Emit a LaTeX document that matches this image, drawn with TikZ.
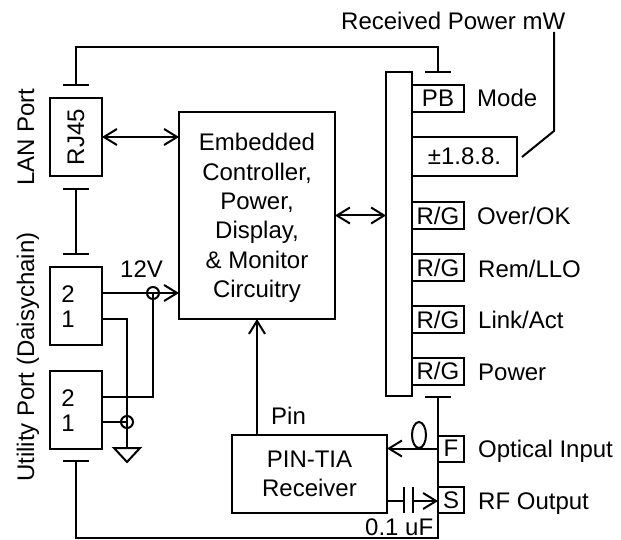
\documentclass[tikz,border=0pt]{standalone}
\usepackage{fontspec}
\setmainfont{Liberation Sans}
\usetikzlibrary{arrows.meta, calc}

\begin{document}
\begin{tikzpicture}[
    x=1pt, y=-1pt,
    >={Straight Barb[length=13pt, width=16pt, line width=2pt]},
    box/.style={draw, line width=2pt, outer sep=0pt, inner sep=0pt, align=center, text depth=0pt, font=\fontsize{24}{29.3}\selectfont},
    port/.style={box, minimum width=52pt, minimum height=78pt},
    tag/.style={box, minimum width=52pt, minimum height=27pt},
    pin/.style={box, minimum width=26pt, minimum height=26pt},
    lbl/.style={inner sep=0pt, font=\fontsize{24}{29}\selectfont},
    side/.style={lbl, anchor=base west},
    arr/.style={<->, line width=2pt},
    wire/.style={line width=2pt}
]
\useasboundingbox (0,0) rectangle (621,540);

% ports on the left
\node[port] (rj)  at (76,137) {\rotatebox{90}{RJ45}};
\node[port] (ut1) at (76,306) {};
\node[port] (ut2) at (76,410) {};
\node[lbl, anchor=base] (ut1b) at (68,302) {2};
\node[lbl, anchor=base] (ut1a) at (68,327) {1};
\node[lbl, anchor=base] (ut2b) at (68,406) {2};
\node[lbl, anchor=base] (ut2a) at (68,431) {1};
\node[lbl, rotate=90, anchor=base] (lan)   at (34,137) {LAN Port};
\node[lbl, rotate=90, anchor=base] (daisy) at (34,357) {Utility Port (Daisychain)};

% main blocks
\node[box, minimum width=156pt, minimum height=207pt] (ctrl) at (257,215.5)
    {Embedded\\Controller,\\Power,\\Display,\\\& Monitor\\Circuitry};
\node[box, minimum width=155pt, minimum height=78pt] (rx) at (309.5,474) {PIN-TIA\\Receiver};
\node[box, minimum width=26pt, minimum height=324pt] (rail) at (399,234) {};

% front panel
\node[tag] (pb)   at (438,98.5)  {PB};
\node[box, minimum width=105pt, minimum height=39pt] (disp) at (464.5,156.5) {±1.8.8.};
\node[tag] (over) at (438,215.5) {R/G};
\node[tag] (rem)  at (438,267.5) {R/G};
\node[tag] (link) at (438,319.5) {R/G};
\node[tag] (pwr)  at (438,371)   {R/G};
\node[pin] (fin)  at (451,448.5) {F};
\node[pin] (sout) at (451,500)   {S};

\node[side] (lmode) at (477,107) {Mode};
\node[side] (lover) at (477,225) {Over/OK};
\node[side] (lrem)  at (478,277) {Rem/LLO};
\node[side] (llink) at (478,328) {Link/Act};
\node[side] (lpwr)  at (478,380) {Power};
\node[side] (lfin)  at (478,457) {Optical Input};
\node[side] (lsout) at (478,509) {RF Output};
\node[side] (lrx)   at (341,30)  {Received Power mW};
\node[side] (l12)   at (120,277) {12V};
\node[side] (lpin)  at (271,424) {Pin};
\node[side] (lcap)  at (365,535) {0.1 uF};

% shield bars
\coordinate (t1) at (76,85);
\coordinate (t2) at (76,189);
\coordinate (t3) at (76,254);
\coordinate (t4) at (76,461);
\coordinate (t5) at (438,72);
\coordinate (t6) at (438,397);
\foreach \t in {t1,t2,t3,t4,t5,t6}
    \draw[wire] ($(\t)+(-13,0)$) -- ($(\t)+(13,0)$);
\draw[wire] (t1) |- (438,47) -- (t5);
\draw[wire] (t2) -- (t3);
\draw[wire] (t4) |- (438,538) -- (t6);

% data paths
\draw[arr] (rj.east) -- (rj.east -| ctrl.west);
\draw[arr] (ctrl.east) -- (ctrl.east -| rail.west);
\draw[->, wire] (rx.north -| ctrl.south) -- (ctrl.south);

% power
\coordinate (vcc) at (153,293);
\coordinate (com) at (127,422);
\coordinate (gnd) at (127,448);
\draw[->, wire] (ut1.east |- vcc) -- (ctrl.west |- vcc);
\draw[wire] (ut1.east |- 0,319) -| (gnd);
\draw[wire] (ut2.east |- 0,397) -| (vcc);
\draw[wire] (ut2.east |- com) -- (com);
\draw[wire] (vcc) circle[radius=6];
\draw[wire] (com) circle[radius=6];
\draw[wire] ($(gnd)+(-13,0)$) -- ($(gnd)+(13,0)$) -- ($(gnd)+(0,14)$) -- cycle;

% optical and rf
\draw[->, wire] (fin.west) -- (fin.west -| rx.east);
\draw[wire] (419,435) ellipse[x radius=7, y radius=13];
\coordinate (capa) at (404,501);
\coordinate (capb) at (413,501);
\draw[wire] (capa -| rx.east) -- (capa);
\draw[wire] ($(capa)+(0,-14)$) -- ($(capa)+(0,12)$);
\draw[wire] ($(capb)+(0,-14)$) -- ($(capb)+(0,12)$);
\draw[->, wire] (capb) -- (capb -| sout.west);

% meter callout
\coordinate (mw) at (554,32);
\draw[wire] (mw) -- (554,131) -- (522,157);
\end{tikzpicture}
\end{document}
